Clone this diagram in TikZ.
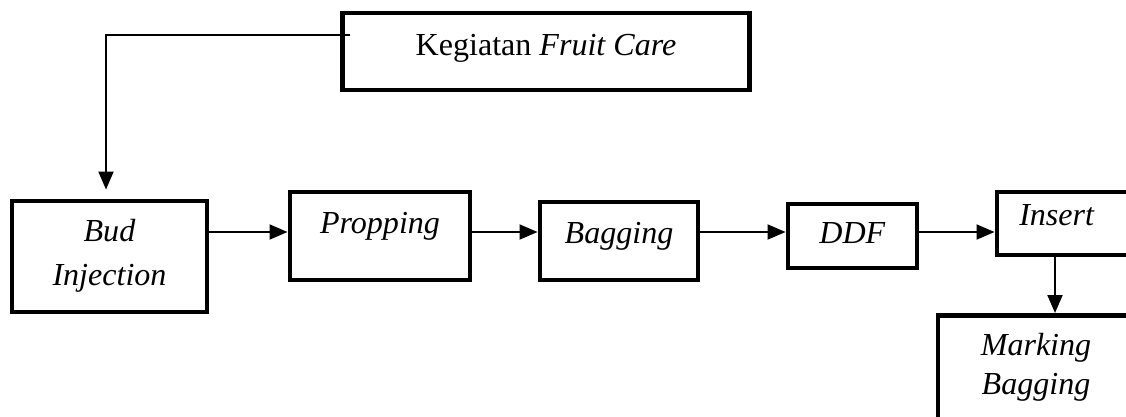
\documentclass[tikz,border=0pt]{standalone}
\usepackage{fontspec}
\setmainfont{Liberation Serif}
\usetikzlibrary{arrows.meta}

\tikzset{
    stage/.style={draw, rectangle, line width=3.5pt, inner sep=0pt,
        font=\fontsize{22.8}{27.7}\selectfont,
        text height=0.525cm, text depth=0.175cm},
    flow/.style={line width=1.4pt, -{Triangle[length=0.45cm, width=0.375cm]}}
}

\begin{document}
\begin{tikzpicture}[x=0.025cm, y=-0.025cm]
    \useasboundingbox (0,0) rectangle (1126,416);
    \clip (0,0) rectangle (1126,416);
	\coordinate (lvl) at (0,232);
    \coordinate (bend) at (106,35);
    \coordinate (drop) at (1055,0);

	\node [stage, minimum width=10.15cm, minimum height=1.925cm, text depth=0.35cm] (care) at (546,51.5) {Kegiatan \textit{Fruit Care}};
	\node [stage, minimum width=4.875cm, minimum height=2.775cm, text height=1.6cm, align=center] (bud) at (109.5,256.5) {\textit{Bud}\\[2.9pt]\textit{Injection}};
	\node [stage, minimum width=4.5cm, minimum height=2.2cm, text depth=0.675cm] (prop) at (380,236) {\textit{Propping}};
	\node [stage, minimum width=3.95cm, minimum height=1.95cm, text depth=0.425cm] (bag) at (619,241) {\textit{Bagging}};
	\node [stage, minimum width=3.225cm, minimum height=1.6cm] (ddf) at (852.5,236) {\textit{DDF}};
	\node [stage, minimum width=3.825cm, minimum height=1.575cm, text depth=0.45cm] (ins) at (1073.5,223.5) {\textit{Insert}\hspace*{0.825cm}};
	\node [stage, anchor=north, minimum width=4.9cm, inner ysep=0.475cm, text height=1.5cm, align=center] (mark) at (1036,313) {\textit{Marking}\\\textit{Bagging}};

	\draw [flow, shorten >=0.225cm] ([xshift=0.25cm]care.west |- bend) -- (bend) -- (bend |- bud.north);
	\draw [flow] (bud.east |- lvl) -- (prop.west |- lvl);
	\draw [flow] (prop.east |- lvl) -- (bag.west |- lvl);
	\draw [flow] (bag.east |- lvl) -- (ddf.west |- lvl);
	\draw [flow] (ddf.east |- lvl) -- (ins.west |- lvl);
	\draw [flow] (ins.south -| drop) -- (mark.north -| drop);
\end{tikzpicture}
\end{document}
